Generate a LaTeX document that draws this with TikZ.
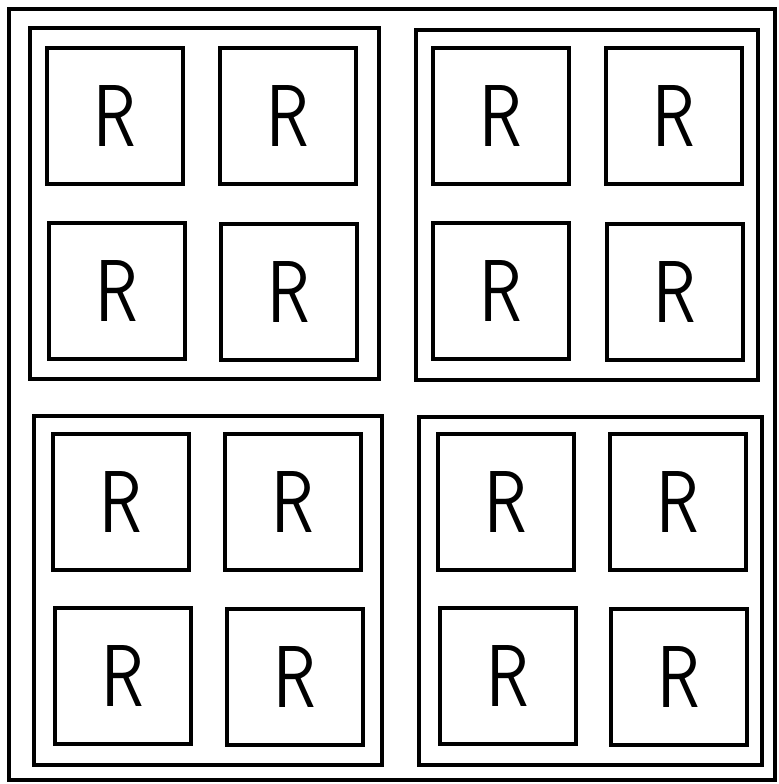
\documentclass[tikz,border=0pt]{standalone}
\usepackage{tikz}
\usepackage{graphicx}
\usetikzlibrary{positioning}

\newcommand{\Rlet}{\scalebox{0.8}[1]{R}}

\begin{document}
\begin{tikzpicture}[
			cell/.style={rectangle, draw, line width=0.9pt, minimum width=1.36cm,
				minimum height=1.36cm, inner sep=0pt, font=\sffamily\fontsize{25}{25}\selectfont},
			quad/.style={draw, line width=0.9pt},
			frame/.style={draw, line width=0.9pt},
			]
			\useasboundingbox (0,0) rectangle (7.79,-7.84);
			
			% Outer frame
			\draw[frame] (0.09,-0.09) rectangle (7.75,-7.80);
			
			% Quadrants
			\draw[quad] (0.30,-0.28) rectangle (3.79,-3.79);
			\draw[quad] (4.16,-0.30) rectangle (7.58,-3.80);
			\draw[quad] (0.34,-4.16) rectangle (3.82,-7.65);
			\draw[quad] (4.19,-4.17) rectangle (7.62,-7.65);
			
			% Top left
			\node[cell] (tl1) at (1.15,-1.16) {\Rlet};
			\node[cell] (tl2) at (2.88,-1.16) {\Rlet};
			\node[cell] (tl3) at (1.17,-2.91) {\Rlet};
			\node[cell] (tl4) at (2.89,-2.92) {\Rlet};
			
			% Top right
			\node[cell] (tr1) at (5.01,-1.16) {\Rlet};
			\node[cell] (tr2) at (6.74,-1.16) {\Rlet};
			\node[cell] (tr3) at (5.01,-2.91) {\Rlet};
			\node[cell] (tr4) at (6.75,-2.92) {\Rlet};
			
			% Bottom left
			\node[cell] (bl1) at (1.21,-5.02) {\Rlet};
			\node[cell] (bl2) at (2.93,-5.02) {\Rlet};
			\node[cell] (bl3) at (1.23,-6.76) {\Rlet};
			\node[cell] (bl4) at (2.95,-6.77) {\Rlet};
			
			% Bottom right
			\node[cell] (br1) at (5.06,-5.02) {\Rlet};
			\node[cell] (br2) at (6.78,-5.02) {\Rlet};
			\node[cell] (br3) at (5.08,-6.76) {\Rlet};
			\node[cell] (br4) at (6.79,-6.77) {\Rlet};
		\end{tikzpicture}
\end{document}
